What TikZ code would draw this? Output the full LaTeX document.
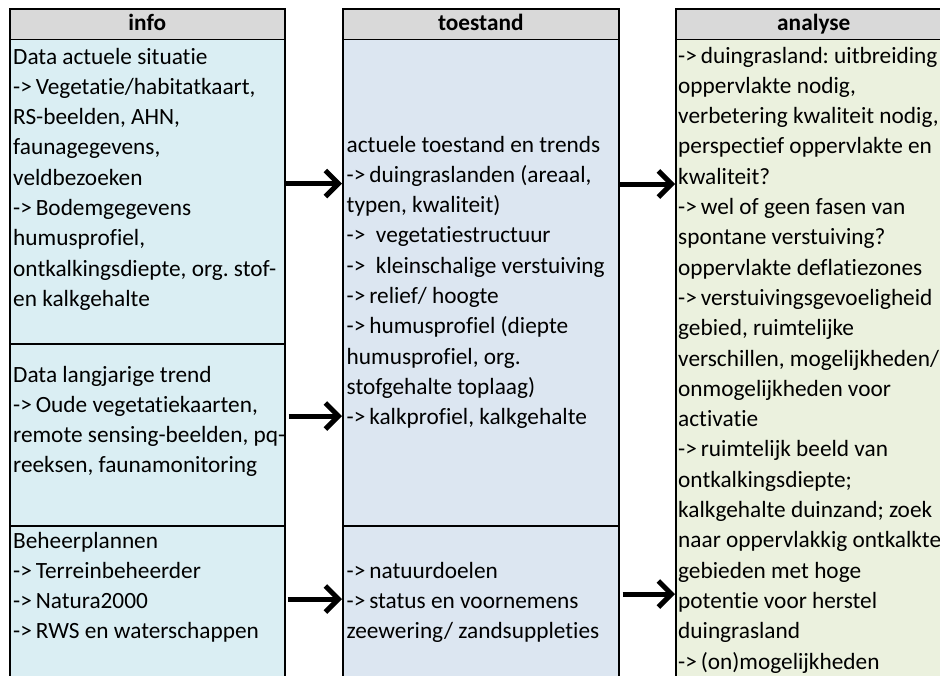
\documentclass[tikz,border=0pt]{standalone}
\usepackage{fontspec}
\setmainfont[Ligatures=NoCommon]{Carlito}
\usetikzlibrary{arrows.meta}
\definecolor{hdrgray}{RGB}{217,217,217}
\definecolor{infoblue}{RGB}{218,238,243}
\definecolor{statblue}{RGB}{220,230,241}
\definecolor{anagreen}{RGB}{235,241,222}
\frenchspacing
\newcommand{\cellfont}{\fontsize{23.3}{30.3}\selectfont}
\newcommand{\lns}[1]{\begin{tabular}[t]{@{}l@{}}#1\end{tabular}}
\tikzset{
  colbox/.style={draw, line width=1.6pt, inner sep=0pt, anchor=north west, minimum width=276pt},
  hdr/.style={colbox, fill=hdrgray, minimum height=30.5pt, text height=17.5pt, text depth=4.5pt, font=\cellfont\bfseries},
  txt/.style={anchor=base west, inner sep=0pt, font=\cellfont},
  arr/.style={line width=5pt, -{Straight Barb[length=13pt,width=26pt]}}
}
\begin{document}
\begin{tikzpicture}[x=1pt,y=-1pt]
\useasboundingbox (0,0) rectangle (940,675);
\clip (0,0) rectangle (940,675);
% cells
\node[colbox, fill=infoblue, minimum width=275pt, minimum height=304.5pt] (l1) at (9,38.5) {};
\node[colbox, fill=infoblue, minimum width=275pt, minimum height=182pt] (l2) at (9,343) {};
\node[colbox, fill=infoblue, minimum width=275pt, minimum height=180pt] (l3) at (9,525) {};
\node[colbox, fill=statblue, minimum height=486.5pt] (m1) at (342,38.5) {};
\node[colbox, fill=statblue, minimum height=180pt] (m2) at (342,525) {};
\node[colbox, fill=anagreen, minimum height=665pt] (r1) at (675,38.5) {};
% headers
\node[hdr, minimum width=275pt] (hl) at (9,8) {info};
\node[hdr] (hm) at (342,8) {toestand};
\node[hdr] (hr) at (675,8) {analyse};
% texts
\node[txt] (tl1) at (13,64) {\lns{Data actuele situatie\\->\,Vegetatie/habitatkaart,\\RS-beelden, AHN,\\faunagegevens,\\veldbezoeken\\->\,Bodemgegevens\\humusprofiel,\\ontkalkingsdiepte, org. stof-\\en kalkgehalte}};
\node[txt] (tl2) at (13,382) {\lns{Data langjarige trend\\->\,Oude vegetatiekaarten,\\remote sensing-beelden, pq-\\reeksen, faunamonitoring}};
\node[txt] (tl3) at (13,548) {\lns{Beheerplannen\\->\,Terreinbeheerder\\->\,Natura2000\\->\,RWS en waterschappen}};
\node[txt] (tm1) at (346.5,152) {\lns{actuele toestand en trends\\->\,duingraslanden (areaal,\\typen, kwaliteit)\\->\ \ vegetatiestructuur\\->\ \ kleinschalige verstuiving\\->\,relief/ hoogte\\->\,humusprofiel (diepte\\humusprofiel, org.\\stofgehalte toplaag)\\->\,kalkprofiel, kalkgehalte}};
\node[txt] (tm2) at (346.5,578) {\lns{->\,natuurdoelen\\->\,status en voornemens\\zeewering/ zandsuppleties}};
\node[txt] (tr1) at (678,63) {\lns{->\,duingrasland: uitbreiding\\oppervlakte nodig,\\verbetering kwaliteit nodig,\\perspectief oppervlakte en\\kwaliteit?\\->\,wel of geen fasen van\\spontane verstuiving?\\oppervlakte deflatiezones\\->\,verstuivingsgevoeligheid\\gebied, ruimtelijke\\verschillen, mogelijkheden/\\onmogelijkheden voor\\activatie\\->\,ruimtelijk beeld van\\ontkalkingsdiepte;\\kalkgehalte duinzand; zoek\\naar oppervlakkig ontkalkte\\gebieden met hoge\\potentie voor herstel\\duingrasland\\->\,(on)mogelijkheden}};
% arrows
\draw[arr] (l1.east |- 0,183.5) -- (m1.west |- 0,183.5);
\draw[arr] ([xshift=3pt]l2.east |- 0,416) -- (m1.west |- 0,416);
\draw[arr] ([xshift=2pt]l3.east |- 0,599) -- (m2.west |- 0,599);
\draw[arr] (m1.east |- 0,184) -- (r1.west |- 0,184);
\draw[arr] ([xshift=3pt]m2.east |- 0,594) -- (r1.west |- 0,594);
\end{tikzpicture}
\end{document}
